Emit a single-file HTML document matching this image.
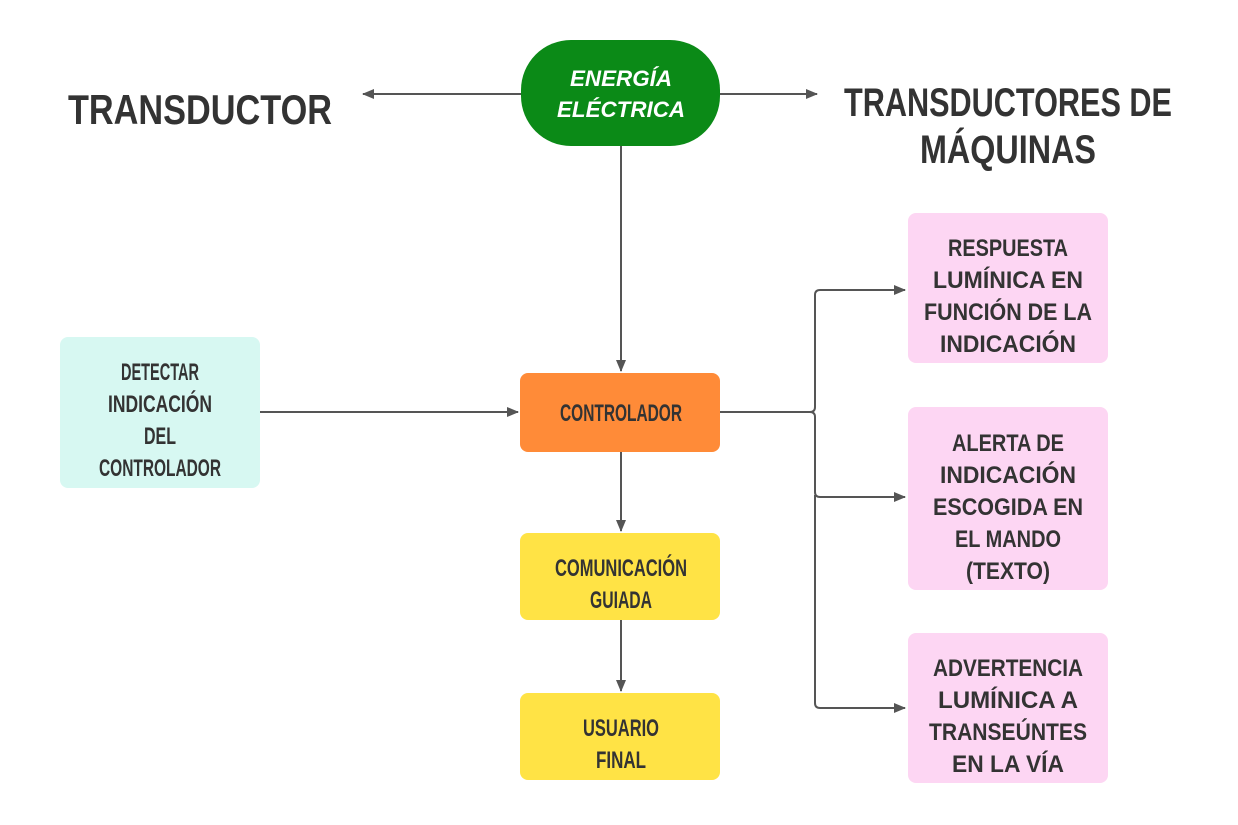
<!DOCTYPE html>
<html><head><meta charset="utf-8"><style>
html,body{margin:0;padding:0;background:#fff;}
svg{display:block;}
text{font-family:"Liberation Sans Narrow","Liberation Sans",sans-serif;font-weight:bold;fill:#333;text-anchor:middle;}
</style></head><body>
<svg width="1238" height="825" viewBox="0 0 1238 825" xmlns="http://www.w3.org/2000/svg">
<defs>
<marker id="a" markerWidth="12" markerHeight="10" refX="11" refY="5" orient="auto" markerUnits="userSpaceOnUse">
<path d="M0,0 L12,5 L0,10 z" fill="#555"/></marker>
</defs>
<g stroke="#555" stroke-width="2" fill="none">
<line x1="521" y1="94" x2="363" y2="94" marker-end="url(#a)"/>
<line x1="720" y1="94" x2="817" y2="94" marker-end="url(#a)"/>
<line x1="621" y1="146" x2="621" y2="371" marker-end="url(#a)"/>
<line x1="260" y1="412" x2="518" y2="412" marker-end="url(#a)"/>
<line x1="621" y1="452" x2="621" y2="531" marker-end="url(#a)"/>
<line x1="621" y1="620" x2="621" y2="691" marker-end="url(#a)"/>
<path d="M720,412 H810 Q815,412 815,407 V295 Q815,290 820,290 H905" marker-end="url(#a)"/>
<path d="M810,412 Q815,412 815,417 V492 Q815,497 820,497 H905" marker-end="url(#a)"/>
<path d="M815,495 V703 Q815,708 820,708 H905" marker-end="url(#a)"/>
</g>
<rect x="521" y="40" width="199" height="106" rx="50" fill="#0b8a17"/>
<g style="fill:#fff;font-style:italic;font-size:22px">
<text x="621" y="86" style="fill:#fff" textLength="102" lengthAdjust="spacingAndGlyphs">ENERGÍA</text>
<text x="621" y="117" style="fill:#fff" textLength="128" lengthAdjust="spacingAndGlyphs">ELÉCTRICA</text>
</g>
<text x="200" y="124" style="font-size:42px" textLength="264" lengthAdjust="spacingAndGlyphs">TRANSDUCTOR</text>
<text x="1008" y="116" style="font-size:40px" textLength="328" lengthAdjust="spacingAndGlyphs">TRANSDUCTORES DE</text>
<text x="1008" y="163" style="font-size:40px" textLength="176" lengthAdjust="spacingAndGlyphs">MÁQUINAS</text>
<rect x="60" y="337" width="200" height="151" rx="8" fill="#d7f8f2"/>
<g style="font-size:24px">
<text x="160" y="380" textLength="78" lengthAdjust="spacingAndGlyphs">DETECTAR</text>
<text x="160" y="412" textLength="104" lengthAdjust="spacingAndGlyphs">INDICACIÓN</text>
<text x="160" y="444" textLength="32" lengthAdjust="spacingAndGlyphs">DEL</text>
<text x="160" y="476" textLength="122" lengthAdjust="spacingAndGlyphs">CONTROLADOR</text>
<text x="621" y="421" textLength="122" lengthAdjust="spacingAndGlyphs">CONTROLADOR</text>
<text x="621" y="576" textLength="132" lengthAdjust="spacingAndGlyphs">COMUNICACIÓN</text>
<text x="621" y="608" textLength="62" lengthAdjust="spacingAndGlyphs">GUIADA</text>
<text x="621" y="736" textLength="76" lengthAdjust="spacingAndGlyphs">USUARIO</text>
<text x="621" y="768" textLength="50" lengthAdjust="spacingAndGlyphs">FINAL</text>
</g>
<rect x="520" y="373" width="200" height="79" rx="8" fill="#ff8b38"/>
<rect x="520" y="533" width="200" height="87" rx="8" fill="#ffe345"/>
<rect x="520" y="693" width="200" height="87" rx="8" fill="#ffe345"/>
<g style="font-size:24px">
<text x="621" y="421" textLength="122" lengthAdjust="spacingAndGlyphs">CONTROLADOR</text>
<text x="621" y="576" textLength="132" lengthAdjust="spacingAndGlyphs">COMUNICACIÓN</text>
<text x="621" y="608" textLength="62" lengthAdjust="spacingAndGlyphs">GUIADA</text>
<text x="621" y="736" textLength="76" lengthAdjust="spacingAndGlyphs">USUARIO</text>
<text x="621" y="768" textLength="50" lengthAdjust="spacingAndGlyphs">FINAL</text>
</g>
<g fill="#fdd6f3">
<rect x="908" y="213" width="200" height="150" rx="8"/>
<rect x="908" y="407" width="200" height="183" rx="8"/>
<rect x="908" y="633" width="200" height="150" rx="8"/>
</g>
<g style="font-size:24px">
<text x="1008" y="256" textLength="120" lengthAdjust="spacingAndGlyphs">RESPUESTA</text>
<text x="1008" y="288" textLength="150" lengthAdjust="spacingAndGlyphs">LUMÍNICA EN</text>
<text x="1008" y="320" textLength="168" lengthAdjust="spacingAndGlyphs">FUNCIÓN DE LA</text>
<text x="1008" y="352" textLength="136" lengthAdjust="spacingAndGlyphs">INDICACIÓN</text>
<text x="1008" y="451" textLength="112" lengthAdjust="spacingAndGlyphs">ALERTA DE</text>
<text x="1008" y="483" textLength="136" lengthAdjust="spacingAndGlyphs">INDICACIÓN</text>
<text x="1008" y="515" textLength="150" lengthAdjust="spacingAndGlyphs">ESCOGIDA EN</text>
<text x="1008" y="547" textLength="106" lengthAdjust="spacingAndGlyphs">EL MANDO</text>
<text x="1008" y="579" textLength="84" lengthAdjust="spacingAndGlyphs">(TEXTO)</text>
<text x="1008" y="676" textLength="150" lengthAdjust="spacingAndGlyphs">ADVERTENCIA</text>
<text x="1008" y="708" textLength="140" lengthAdjust="spacingAndGlyphs">LUMÍNICA A</text>
<text x="1008" y="740" textLength="158" lengthAdjust="spacingAndGlyphs">TRANSEÚNTES</text>
<text x="1008" y="772" textLength="112" lengthAdjust="spacingAndGlyphs">EN LA VÍA</text>
</g>
</svg>
</body></html>
